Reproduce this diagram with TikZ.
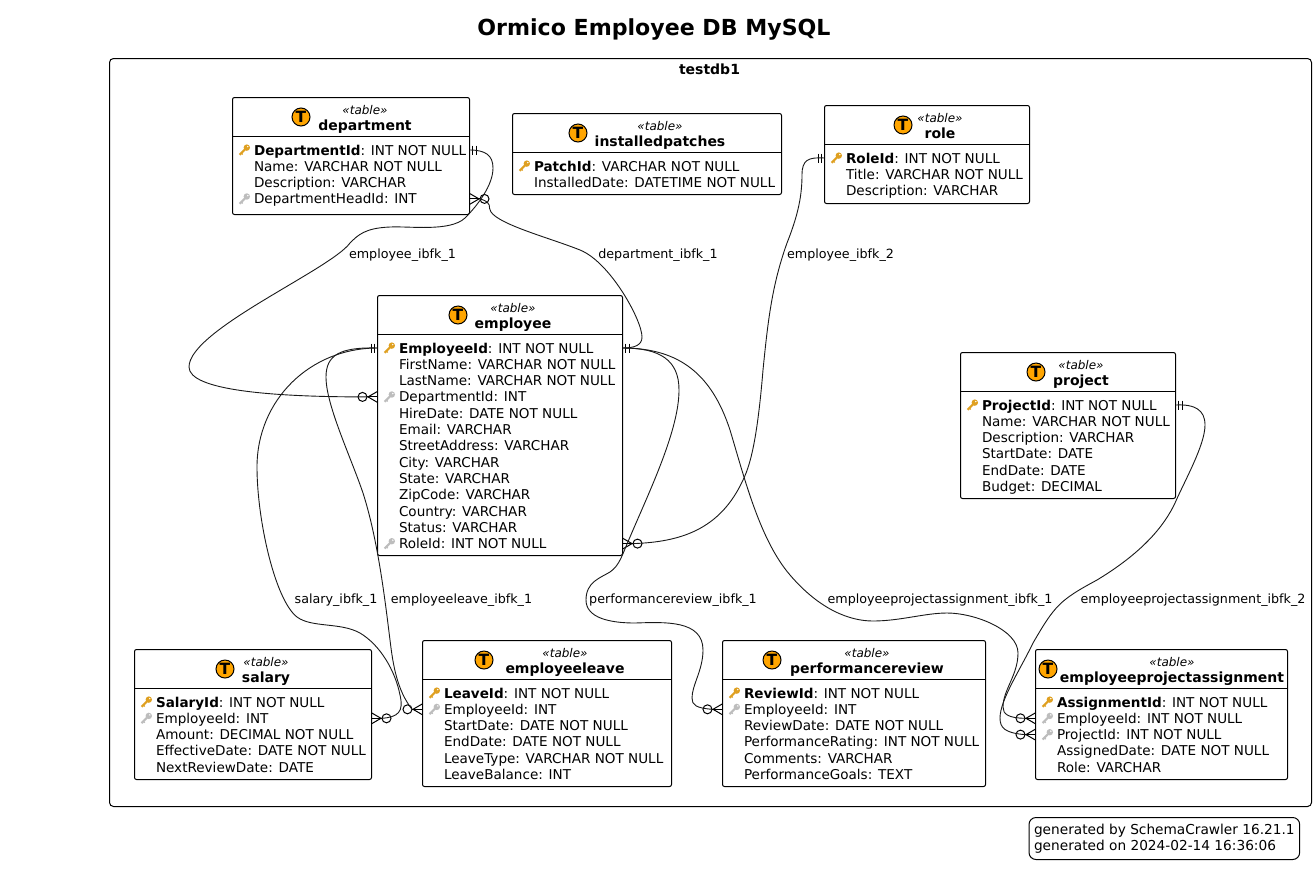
\documentclass[tikz,border=0pt]{standalone}
\usepackage{fontspec}
\setmainfont{DejaVu Sans}
\usepackage{tikz}

\definecolor{iconorange}{HTML}{FFA500}
\definecolor{keygold}{HTML}{DFA021}
\definecolor{keygray}{HTML}{BDBDBD}

\newcommand{\fieldfont}{\fontsize{13.55}{16}\selectfont}
\newcommand{\edgefont}{\fontsize{12.7}{15}\selectfont}

% key glyph in front of a field
\newcommand{\fieldkey}[3]{
    \fill[#1] ({#2+2.8},{#3-2.4}) circle (3.2);
    \draw[#1, line width=2.1pt] ({#2+1},{#3-0.6}) -- ({#2-4.4},{#3+4.8});
    \draw[#1, line width=1.3pt] ({#2-2.8},{#3+2.8}) -- ({#2-1.3},{#3+4.5});
    \fill[white] ({#2+3.8},{#3-3.4}) circle (0.8);
}

% name, left, top, right, bottom, icon x, title x, fields
\newcommand{\ertable}[8]{
    \node[tablebox, minimum width={#4-#2}, minimum height={#5-#3}] (#1) at ({(#2+#4)/2},{(#3+#5)/2}) {};
    \draw (#2,{#3+39}) -- (#4,{#3+39});
    \node[tableicon] (#1-icon) at (#6,{#3+19.5}) {T};
    \node[stereotype] (#1-kind) at (#7,{#3+13}) {«table»};
    \node[tabletitle] (#1-title) at (#7,{#3+28.7}) {#1};
    \foreach \kind/\pk/\rest [count=\i] in {#8} {
        \pgfmathsetmacro{\rowy}{#3+52.5+(\i-1)*16.3}
        \node[field] (#1-\i) at ({#2+21},\rowy) {{\bfseries\pk}\rest};
        \if p\kind \fieldkey{keygold}{#2+11.5}{\rowy}\fi
        \if f\kind \fieldkey{keygray}{#2+11.5}{\rowy}\fi
    }
}

% crow foot with open circle: name, box point, direction
\newcommand{\manyend}[3]{
    \begin{scope}[shift={(#2)}, xscale=#3]
        \draw (0,-5.5) -- (9.5,0) -- (0,5.5);
        \draw (0,0) -- (10.5,0);
        \node[optcircle] (#1) at (15,0) {};
    \end{scope}
}

% two bars: box point, direction
\newcommand{\oneend}[2]{
    \begin{scope}[shift={(#1)}, xscale=#2]
        \draw (3,-4.5) -- (3,4.5);
        \draw (6.5,-4.5) -- (6.5,4.5);
    \end{scope}
}

\begin{document}
\begin{tikzpicture}[
    x=1pt, y=-1pt,
    line width=1pt,
    tablebox/.style={draw, fill=white, rounded corners=2pt, inner sep=0pt, outer sep=0pt},
    tableicon/.style={draw, circle, fill=iconorange, minimum size=18pt, inner sep=0pt, font=\fontsize{15.5}{15}\selectfont\bfseries},
    stereotype/.style={inner sep=0pt, text height=10pt, text depth=3pt, font=\fontsize{12}{14}\selectfont\itshape},
    tabletitle/.style={inner sep=0pt, text height=11pt, text depth=3pt, font=\fontsize{14}{16}\selectfont\bfseries},
    field/.style={anchor=west, inner sep=0pt, text height=13pt, text depth=3pt, font=\fieldfont},
    optcircle/.style={draw, circle, fill=white, minimum size=9pt, inner sep=0pt, outer sep=0pt},
    relation/.style={line width=0.9pt, black!90},
    fkname/.style={inner sep=0pt, text height=10pt, text depth=3pt, font=\edgefont}
]
\useasboundingbox (0,0) rectangle (1316,871);

\node[font=\fontsize{22.1}{24}\selectfont\bfseries] (title) at (654,29) {Ormico Employee DB MySQL};

\node[draw, rounded corners=4pt, minimum width=1202pt, minimum height=748pt, inner sep=0pt, outer sep=0pt] (testdb1) at (710.5,432.5) {};
\node[tabletitle] (testdb1-title) at (709.5,70) {testdb1};

\ertable{department}{232.5}{97.5}{469.5}{214.5}{301}{365}{
    p/DepartmentId/: INT NOT NULL,
    n//Name: VARCHAR NOT NULL,
    n//Description: VARCHAR,
    f//DepartmentHeadId: INT}
\ertable{installedpatches}{512.5}{113.5}{781.5}{194.5}{578}{660}{
    p/PatchId/: VARCHAR NOT NULL,
    n//InstalledDate: DATETIME NOT NULL}
\ertable{role}{824.5}{105.5}{1029.5}{203.5}{903}{940}{
    p/RoleId/: INT NOT NULL,
    n//Title: VARCHAR NOT NULL,
    n//Description: VARCHAR}
\ertable{employee}{377.5}{295.5}{622.5}{555.5}{458}{513}{
    p/EmployeeId/: INT NOT NULL,
    n//FirstName: VARCHAR NOT NULL,
    n//LastName: VARCHAR NOT NULL,
    f//DepartmentId: INT,
    n//HireDate: DATE NOT NULL,
    n//Email: VARCHAR,
    n//StreetAddress: VARCHAR,
    n//City: VARCHAR,
    n//State: VARCHAR,
    n//ZipCode: VARCHAR,
    n//Country: VARCHAR,
    n//Status: VARCHAR,
    f//RoleId: INT NOT NULL}
\ertable{project}{960.5}{352.5}{1175.5}{498.5}{1036}{1081}{
    p/ProjectId/: INT NOT NULL,
    n//Name: VARCHAR NOT NULL,
    n//Description: VARCHAR,
    n//StartDate: DATE,
    n//EndDate: DATE,
    n//Budget: DECIMAL}
\ertable{salary}{134.5}{649.5}{371.5}{779.5}{225}{266}{
    p/SalaryId/: INT NOT NULL,
    f//EmployeeId: INT,
    n//Amount: DECIMAL NOT NULL,
    n//EffectiveDate: DATE NOT NULL,
    n//NextReviewDate: DATE}
\ertable{employeeleave}{422.5}{640.5}{671.5}{786.5}{484}{565}{
    p/LeaveId/: INT NOT NULL,
    f//EmployeeId: INT,
    n//StartDate: DATE NOT NULL,
    n//EndDate: DATE NOT NULL,
    n//LeaveType: VARCHAR NOT NULL,
    n//LeaveBalance: INT}
\ertable{performancereview}{722.5}{640.5}{985.5}{786.5}{772}{867}{
    p/ReviewId/: INT NOT NULL,
    f//EmployeeId: INT,
    n//ReviewDate: DATE NOT NULL,
    n//PerformanceRating: INT NOT NULL,
    n//Comments: VARCHAR,
    n//PerformanceGoals: TEXT}
\ertable{employeeprojectassignment}{1035.5}{649.5}{1287.5}{779.5}{1048}{1172}{
    p/AssignmentId/: INT NOT NULL,
    f//EmployeeId: INT NOT NULL,
    f//ProjectId: INT NOT NULL,
    n//AssignedDate: DATE NOT NULL,
    n//Role: VARCHAR}

\coordinate (deptpk) at (department.east |- department-1);
\coordinate (depthead) at (department.east |- department-4);
\coordinate (rolepk) at (role.west |- role-1);
\coordinate (emppkl) at (employee.west |- employee-1);
\coordinate (emppkr) at (employee.east |- employee-1);
\coordinate (empdept) at (employee.west |- employee-4);
\coordinate (emprole) at (employee.east |- employee-13);
\coordinate (projpk) at (project.east |- project-1);
\coordinate (salemp) at (salary.east |- salary-2);
\coordinate (leaveemp) at (employeeleave.west |- employeeleave-2);
\coordinate (revemp) at (performancereview.west |- performancereview-2);
\coordinate (epaemp) at (employeeprojectassignment.west |- employeeprojectassignment-2);
\coordinate (epaproj) at (employeeprojectassignment.west |- employeeprojectassignment-3);

\oneend{deptpk}{1}
\oneend{rolepk}{-1}
\oneend{emppkl}{-1}
\oneend{emppkr}{1}
\oneend{projpk}{1}
\manyend{headfoot}{depthead}{1}
\manyend{deptfoot}{empdept}{-1}
\manyend{rolefoot}{emprole}{1}
\manyend{salfoot}{salemp}{1}
\manyend{leavefoot}{leaveemp}{-1}
\manyend{revfoot}{revemp}{-1}
\manyend{epaempfoot}{epaemp}{-1}
\manyend{epaprojfoot}{epaproj}{-1}

\draw[relation] (deptpk) .. controls (485,150) and (493,155) .. (493,168)
    .. controls (493,185) and (478,205) .. (465,218)
    .. controls (450,232) and (410,226) .. (390,227)
    .. controls (365,228) and (358,235) .. (350,243)
    .. controls (330,270) and (189,330) .. (189,367)
    .. controls (189,390) and (270,397) .. (deptfoot.east);
\draw[relation] (headfoot.west) .. controls (494,203) and (487,207) .. (491,212)
    .. controls (500,225) and (550,238) .. (580,250)
    .. controls (610,262) and (642,320) .. (642,337)
    .. controls (642,345) and (635,348) .. (emppkr);
\draw[relation] (rolepk) .. controls (808,157) and (802,160) .. (802,175)
    .. controls (802,200) and (796,220) .. (787,243)
    .. controls (772,285) and (768,320) .. (763,370)
    .. controls (758,430) and (752,462) .. (743,480)
    .. controls (720,530) and (680,542) .. (rolefoot.west);
\draw[relation] (emppkl) .. controls (310,348) and (257,400) .. (257,467)
    .. controls (257,520) and (275,600) .. (297,617)
    .. controls (312,628) and (340,622) .. (360,633)
    .. controls (380,645) and (395,670) .. (400,695)
    .. controls (404,712) and (398,717) .. (salfoot.west);
\draw[relation] (emppkl) .. controls (340,347) and (326,355) .. (326,377)
    .. controls (326,405) and (350,455) .. (363,493)
    .. controls (378,540) and (385,600) .. (390,640)
    .. controls (393,665) and (397,690) .. (leavefoot.east);
\draw[relation] (emppkr) .. controls (660,348) and (679,360) .. (679,390)
    .. controls (679,430) and (650,490) .. (630,537)
    .. controls (622,555) and (620,565) .. (610,572)
    .. controls (600,578) and (586,582) .. (586,600)
    .. controls (586,618) and (610,623) .. (635,623)
    .. controls (665,622) and (703,620) .. (703,650)
    .. controls (703,670) and (692,685) .. (692,698)
    .. controls (692,705) and (696,708) .. (revfoot.east);
\draw[relation] (emppkr) .. controls (680,348) and (712,375) .. (730,430)
    .. controls (745,480) and (760,540) .. (790,575)
    .. controls (820,610) and (850,621) .. (873,621)
    .. controls (900,621) and (925,613) .. (947,613)
    .. controls (975,613) and (1018,630) .. (1018,653)
    .. controls (1018,675) and (1003,690) .. (1003,707)
    .. controls (1003,714) and (1008,718) .. (epaempfoot.east);
\draw[relation] (projpk) .. controls (1195,404) and (1205,410) .. (1205,425)
    .. controls (1205,445) and (1185,480) .. (1175,503)
    .. controls (1160,535) and (1130,560) .. (1097,580)
    .. controls (1060,600) and (1055,605) .. (1033,643)
    .. controls (1020,670) and (1000,700) .. (1000,718)
    .. controls (1000,728) and (1005,733) .. (epaprojfoot.east);

\node[fkname] (fk-deptemp) at (402.5,255) {employee\_ibfk\_1};
\node[fkname] (fk-dept) at (658,255) {department\_ibfk\_1};
\node[fkname] (fk-role) at (840.5,255) {employee\_ibfk\_2};
\node[fkname] (fk-sal) at (336,599.5) {salary\_ibfk\_1};
\node[fkname] (fk-leave) at (461.5,599.5) {employeeleave\_ibfk\_1};
\node[fkname] (fk-rev) at (673,599.5) {performancereview\_ibfk\_1};
\node[fkname] (fk-epa1) at (940,599.5) {employeeprojectassignment\_ibfk\_1};
\node[fkname] (fk-epa2) at (1193,599.5) {employeeprojectassignment\_ibfk\_2};

\node[draw, rounded corners=7pt, anchor=west, minimum width=270pt, minimum height=42pt,
    inner xsep=5pt, inner ysep=0pt, align=left, font=\fontsize{13.7}{16}\selectfont] (generated) at (1028.5,838.5)
    {generated by SchemaCrawler 16.21.1\\generated on 2024-02-14 16:36:06};

\end{tikzpicture}
\end{document}
